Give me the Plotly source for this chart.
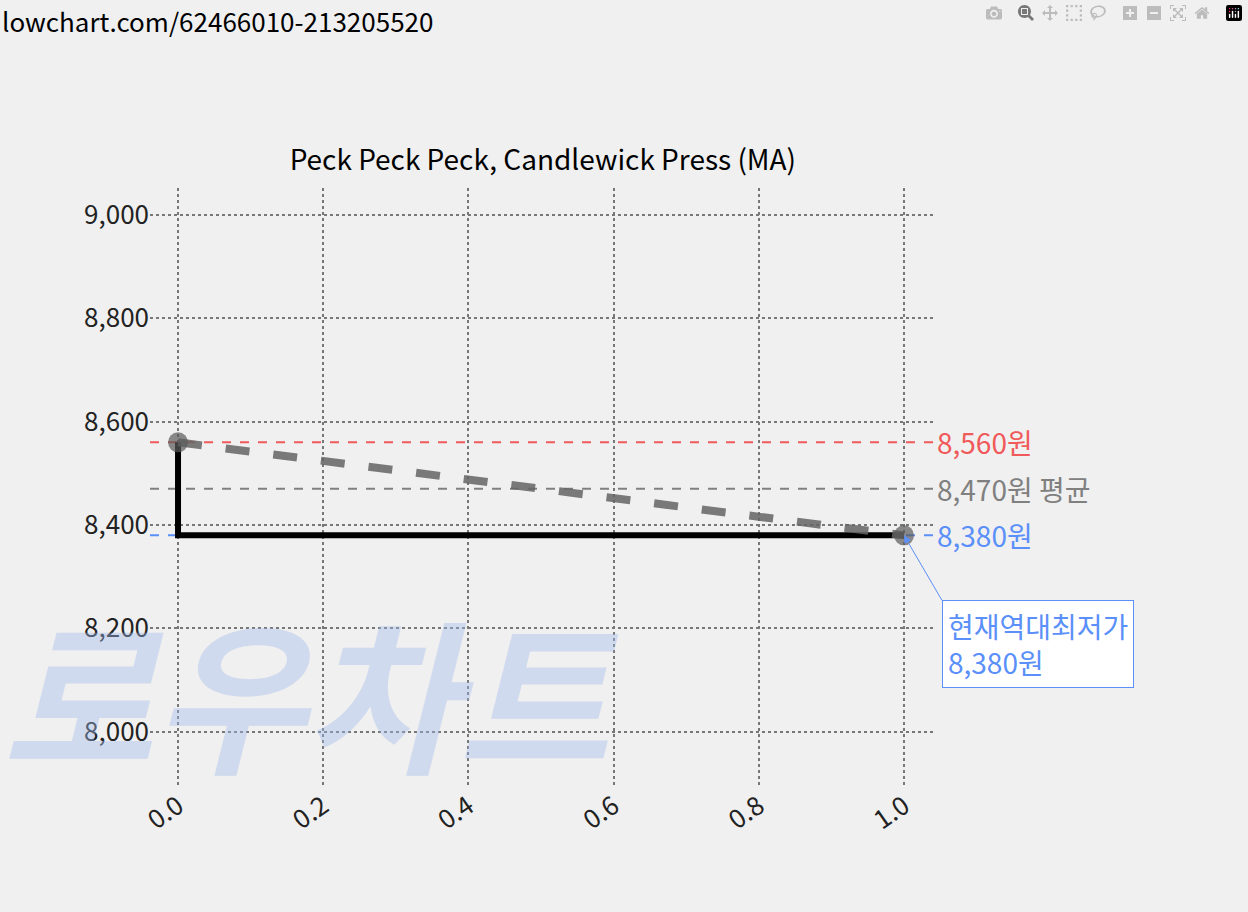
import plotly.graph_objects as go

x_vals = [0.0, 1.0]
prices = [8560, 8380]
max_price = 8560
avg_price = 8470
min_price = 8380
x_ticks = [0.0, 0.2, 0.4, 0.6, 0.8, 1.0]
y_ticks = [8000, 8200, 8400, 8600, 8800, 9000]

F = "Noto Sans CJK KR"
fig = go.Figure()
xr = [-0.0386, 1.0427]
for val, col in [(max_price, "#f05a5a"), (avg_price, "#808080"), (min_price, "#5b8ff9")]:
    fig.add_trace(go.Scatter(x=xr, y=[val, val], mode="lines",
                             line=dict(color=col, width=2, dash="dash"), hoverinfo="skip"))
fig.add_trace(go.Scatter(x=x_vals, y=prices, mode="lines", line=dict(color="black", width=6, shape="vh")))
fig.add_trace(go.Scatter(x=x_vals, y=prices, mode="lines+markers",
                         line=dict(color="rgba(100,100,100,0.85)", width=8, dash="dash"),
                         marker=dict(size=20, color="rgba(90,90,90,0.7)")))

fig.add_annotation(x=0.204, y=0.16, xref="paper", yref="paper", text="<b><i>로우차트</i></b>", showarrow=False,
                   font=dict(family=F, size=165, color="rgba(160,185,235,0.4)"), xanchor="center",
                   yanchor="middle")
for val, col, txt in [(max_price, "#f05a5a", "8,560원"), (avg_price, "#808080", "8,470원 평균"),
                      (min_price, "#5b8ff9", "8,380원")]:
    fig.add_annotation(x=1.0, y=val, xref="paper", yref="y", text=txt, showarrow=False,
                       xanchor="left", font=dict(family=F, size=28, color=col))
fig.add_annotation(x=1.0, y=min_price, xref="x", yref="y", text="현재역대최저가<br>8,380원",
                   showarrow=True, arrowhead=2, arrowsize=1.5, arrowcolor="#5b8ff9", ax=38, ay=65,
                   xanchor="left", yanchor="top", align="left",
                   font=dict(family=F, size=28, color="#5b8ff9"), bgcolor="white",
                   bordercolor="#5b8ff9", borderwidth=1, borderpad=5)
fig.add_annotation(x=-0.191, y=1.315, xref="paper", yref="paper", text="lowchart.com/62466010-213205520",
                   showarrow=False, xanchor="left", yanchor="top", font=dict(family=F, size=26, color="black"))

grid = dict(showgrid=True, gridcolor="#777", griddash="dot", gridwidth=2, zeroline=False, showline=False,
            tickfont=dict(family=F, size=26, color="#222"), ticks="")
fig.update_xaxes(range=xr, tickvals=x_ticks, ticktext=[f"{v:.1f}" for v in x_ticks], tickangle=-35, **grid)
fig.update_yaxes(range=[7897, 9052], tickvals=y_ticks, ticktext=[f"{v:,}" for v in y_ticks], **grid)
fig.update_layout(width=1248, height=912, showlegend=False, paper_bgcolor="#f0f0f0", plot_bgcolor="#f0f0f0",
                  margin=dict(l=150, r=313, t=188, b=127),
                  title=dict(text="Peck Peck Peck, Candlewick Press (MA)", x=0.435, y=0.835, xanchor="center",
                             font=dict(family=F, size=28, color="black")))
fig.write_html("out.html")
with open("out.html", encoding="utf-8") as f:
    h = f.read()
h = h.replace("<body>", '<body style="margin:0;background:#f0f0f0">', 1)
with open("out.html", "w", encoding="utf-8") as f:
    f.write(h)
